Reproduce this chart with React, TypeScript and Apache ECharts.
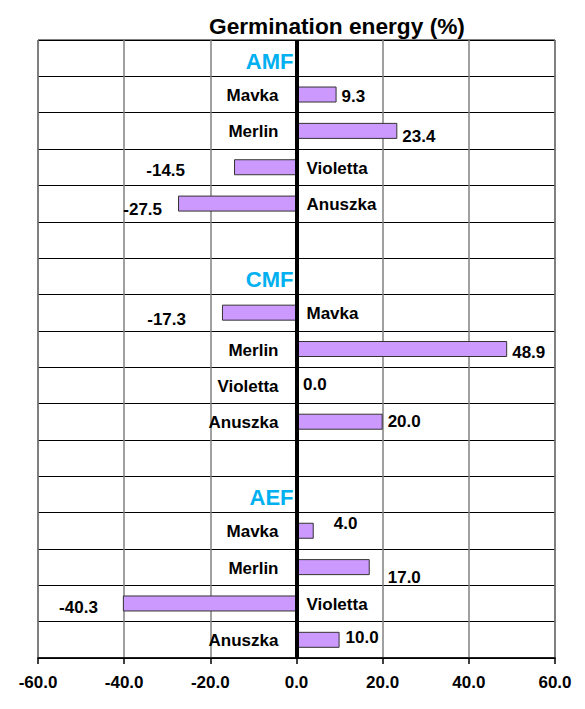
import React, { useEffect, useRef } from "react";
import * as echarts from "echarts";

// ---- data ----
const groups = ["AMF", "CMF", "AEF"];
const cultivars = ["Mavka", "Merlin", "Violetta", "Anuszka"];
const amfValues = [9.3, 23.4, -14.5, -27.5];
const cmfValues = [-17.3, 48.9, 0.0, 20.0];
const aefValues = [4.0, 17.0, -40.3, 10.0];
const groupValues = [amfValues, cmfValues, aefValues];
const xMin = -60;
const xMax = 60;
const xInterval = 20;
const titleText = "Germination energy (%)";

// ---- layout tweaks for value labels (pixel nudges, per bar in reading order) ----
const valueLabelNudges: [number, number][] = [
  [0, 1.5], [0, 6], [-44, 3], [-11, 6],
  [-31, 7], [0, 3], [1, -1], [0, 0],
  [15, -7], [13, 10], [-20, 4], [1, -2],
];

const FONT = "'Liberation Sans', Arial, sans-serif";

export default function App() {
  const ref = useRef<HTMLDivElement>(null);

  useEffect(() => {
    if (!ref.current) return;
    const chart = echarts.init(ref.current, undefined, { renderer: "svg" });

    const rows: string[] = [];
    const barData: any[] = [];
    const catLabelData: any[] = [];
    const headerData: any[] = [];
    let barCount = 0;
    groups.forEach((g, gi) => {
      const headerIdx = rows.length;
      rows.push("h" + gi);
      barData.push(null);
      headerData.push({ value: [0, headerIdx], name: g });
      cultivars.forEach((c, ci) => {
        const idx = rows.length;
        rows.push("r" + gi + "_" + ci);
        const v = groupValues[gi][ci];
        const nudge = valueLabelNudges[barCount++] || [0, 0];
        barData.push({
          value: v,
          label: {
            position: v < 0 ? "left" : "right",
            offset: nudge,
          },
        });
        catLabelData.push({
          value: [0, idx],
          name: c,
          label: {
            position: v >= 0 ? "left" : "right",
            distance: v >= 0 ? 18 : 10,
          },
        });
      });
      if (gi < groups.length - 1) {
        rows.push("b" + gi);
        barData.push(null);
      }
    });

    chart.setOption({
      animation: false,
      title: {
        text: titleText,
        left: 204,
        top: 9,
        textStyle: {
          fontFamily: FONT,
          fontWeight: "bold",
          fontSize: 22.7,
          color: "#000",
        },
      },
      grid: {
        left: 38,
        right: 30,
        top: 40,
        bottom: 51,
        show: true,
        borderColor: "#000",
        borderWidth: 1,
      },
      xAxis: {
        type: "value",
        min: xMin,
        max: xMax,
        interval: xInterval,
        axisLine: { show: true, lineStyle: { color: "#000", width: 1.5 } },
        axisTick: { show: true, inside: false, length: 6, lineStyle: { color: "#000", width: 1.5 } },
        axisLabel: {
          formatter: (v: number) => v.toFixed(1),
          fontFamily: FONT,
          fontWeight: "bold",
          fontSize: 17,
          color: "#000",
          margin: 16,
        },
        splitLine: { show: true, lineStyle: { color: "#808080", width: 1.5 } },
      },
      yAxis: {
        type: "category",
        inverse: true,
        data: rows,
        axisLabel: { show: false },
        axisTick: { show: false },
        axisLine: { show: false },
        splitLine: { show: true, lineStyle: { color: "#000", width: 1 } },
      },
      series: [
        {
          type: "bar",
          data: barData,
          barWidth: 16,
          itemStyle: { color: "#CC99FF", borderColor: "#333333", borderWidth: 1 },
          label: {
            show: true,
            distance: 5,
            formatter: (p: any) => Number(p.value).toFixed(1),
            fontFamily: FONT,
            fontWeight: "bold",
            fontSize: 17,
            color: "#000",
          },
          markLine: {
            silent: true,
            symbol: ["none", "none"],
            label: { show: false },
            lineStyle: { color: "#000", width: 4, type: "solid" },
            data: [{ xAxis: 0 }],
          },
          z: 2,
        },
        {
          type: "scatter",
          data: catLabelData,
          symbolSize: 0,
          silent: true,
          itemStyle: { opacity: 1 },
          label: {
            show: true,
            formatter: (p: any) => p.name,
            fontFamily: FONT,
            fontWeight: "bold",
            fontSize: 17,
            color: "#000",
            opacity: 1,
            offset: [0, 1],
          },
          z: 3,
        },
        {
          type: "scatter",
          data: headerData,
          symbolSize: 0,
          silent: true,
          itemStyle: { opacity: 1 },
          label: {
            show: true,
            position: "left",
            distance: 3,
            formatter: (p: any) => p.name,
            fontFamily: FONT,
            fontWeight: "bold",
            fontSize: 22,
            color: "#00B0F0",
            opacity: 1,
            offset: [0, 3],
          },
          z: 3,
        },
      ],
    });

    return () => chart.dispose();
  }, []);

  return (
    <div
      ref={ref}
      style={{ position: "absolute", left: 0, top: 0, width: 585, height: 709 }}
    />
  );
}
